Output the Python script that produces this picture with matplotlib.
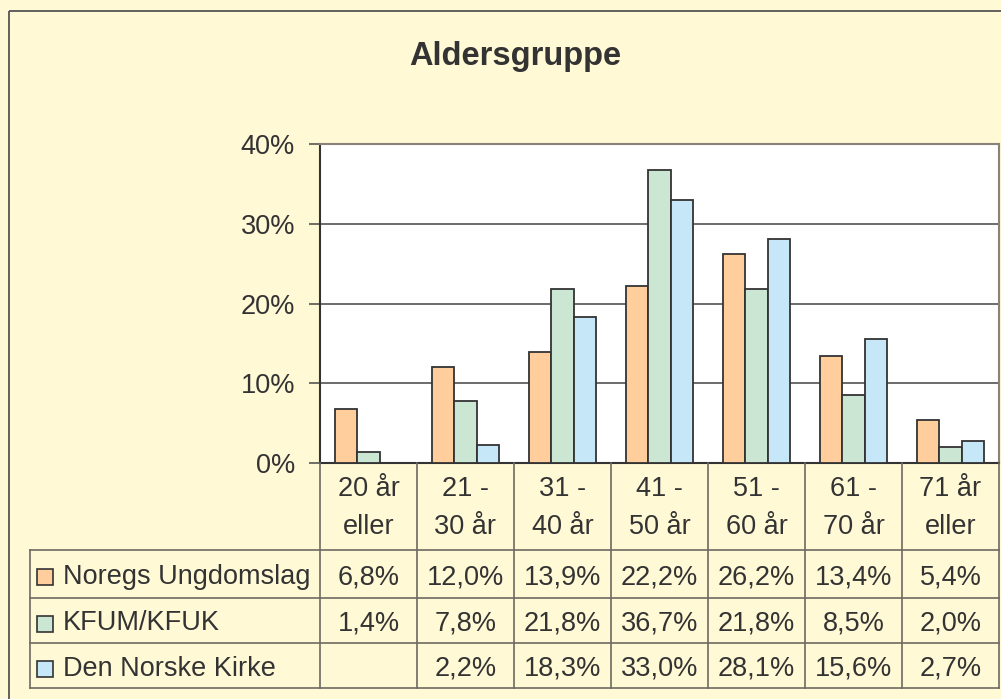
import numpy as np
import matplotlib
matplotlib.use("Agg")
import matplotlib.pyplot as plt
from matplotlib.patches import Rectangle

plt.rcParams['font.family'] = ['Liberation Sans', 'DejaVu Sans']

# data
categories = ["20 år\neller", "21 -\n30 år", "31 -\n40 år", "41 -\n50 år",
              "51 -\n60 år", "61 -\n70 år", "71 år\neller"]
series = ["Noregs Ungdomslag", "KFUM/KFUK", "Den Norske Kirke"]
noregs = [6.8, 12.0, 13.9, 22.2, 26.2, 13.4, 5.4]
kfum = [1.4, 7.8, 21.8, 36.7, 21.8, 8.5, 2.0]
kirke = [np.nan, 2.2, 18.3, 33.0, 28.1, 15.6, 2.7]
values = [noregs, kfum, kirke]
colors = ["#FFCE9C", "#CCE6D4", "#C6E7F7"]
yticks = [0, 10, 20, 30, 40]

bg = "#FFF9D6"
txt = "#333333"
fs = 19.5
W, H = 1001, 699

fig = plt.figure(figsize=(W / 100, H / 100), dpi=100, facecolor=bg)

# plot area (pixel box 320..999 x 144..463)
L, R, T, B = 320, 999, 144, 463
ax = fig.add_axes([L / W, 1 - B / H, (R - L) / W, (B - T) / H])
ax.set_facecolor("white")

x = np.arange(len(categories))
bw = 0.23
for i, (vals, c) in enumerate(zip(values, colors)):
    ax.bar(x + (i - 1) * bw, vals, bw, color=c, edgecolor="#333333",
           linewidth=1.3, zorder=3)

ax.set_xlim(-0.5, len(categories) - 0.5)
ax.set_ylim(0, 40)
ax.set_yticks(yticks)
ax.set_yticklabels([f"{t}%" for t in yticks], fontsize=fs, color=txt)
ax.tick_params(axis='y', length=8, width=1.2, color="#555555", pad=10)
ax.set_xticks([])
for t in yticks[1:-1]:
    ax.axhline(t, color="#444444", linewidth=1.1, zorder=1)
ax.spines['left'].set_color("#333333")
ax.spines['left'].set_linewidth(1.5)
ax.spines['bottom'].set_color("#333333")
ax.spines['bottom'].set_linewidth(1.5)
ax.spines['top'].set_color("#8a8178")
ax.spines['top'].set_linewidth(1.5)
ax.spines['right'].set_color("#8a8178")
ax.spines['right'].set_linewidth(1.5)

# overlay in pixel coords for title, data table, border
ov = fig.add_axes([0, 0, 1, 1], facecolor="none")
ov.set_xlim(0, W)
ov.set_ylim(H, 0)
ov.axis("off")

ov.text(515, 56, "Aldersgruppe", fontsize=23.5, fontweight="bold", color=txt,
        ha="center", va="center")

# outer chart border
ov.add_patch(Rectangle((9, 11), W + 20, H + 20, fill=False,
                       edgecolor="#555555", linewidth=1.3))

colw = (R - L) / len(categories)
col_x = [L + i * colw for i in range(len(categories) + 1)]
row_y = [B, 550, 598, 643, 688]
tab_left = 30
lc = "#6e6a62"

# horizontal lines
for y in row_y[1:]:
    ov.plot([tab_left, R], [y, y], color=lc, linewidth=1.2)
# vertical lines
for cx in col_x:
    ov.plot([cx, cx], [B, row_y[-1]], color=lc, linewidth=1.2)
ov.plot([tab_left, tab_left], [row_y[1], row_y[-1]], color=lc, linewidth=1.2)

# header labels
for i, cat in enumerate(categories):
    ov.text((col_x[i] + col_x[i + 1]) / 2, (row_y[0] + row_y[1]) / 2 + 1, cat,
            fontsize=fs, color=txt, ha="center", va="center",
            linespacing=1.6)

# rows
for r, (name, vals, c) in enumerate(zip(series, values, colors)):
    yc = (row_y[r + 1] + row_y[r + 2]) / 2 + 3
    ov.add_patch(Rectangle((37, yc - 8), 16, 16, facecolor=c,
                           edgecolor="#333333", linewidth=1.2))
    ov.text(63, yc, name, fontsize=fs, color=txt, ha="left", va="center")
    for i, v in enumerate(vals):
        if np.isnan(v):
            continue
        s = f"{v:.1f}%".replace(".", ",")
        ov.text((col_x[i] + col_x[i + 1]) / 2, yc, s, fontsize=fs,
                color=txt, ha="center", va="center")

fig.savefig("out.png", dpi=100, facecolor=bg)
